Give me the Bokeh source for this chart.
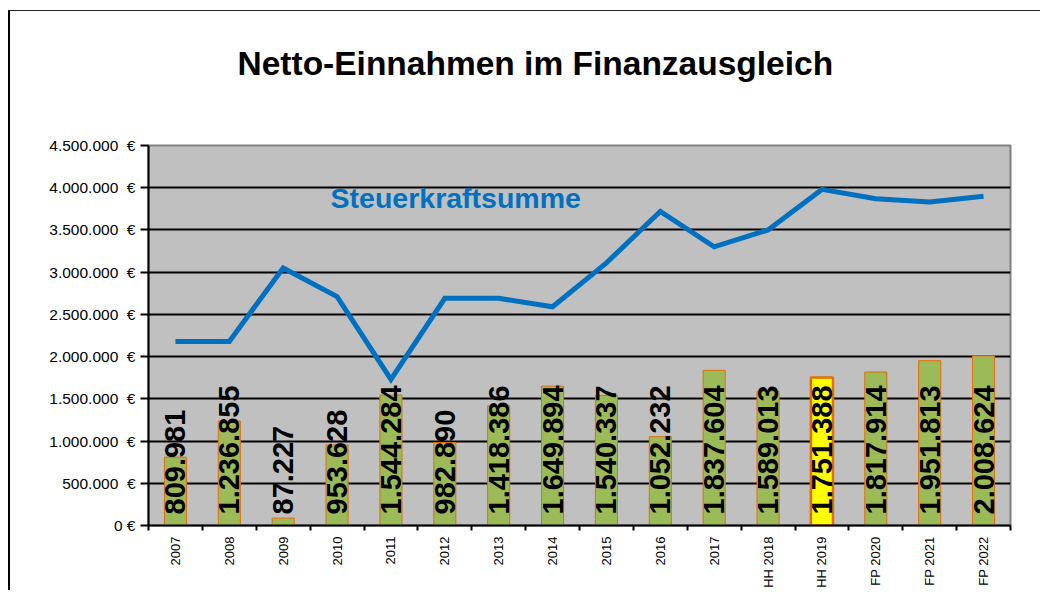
import math
from bokeh.plotting import figure
from bokeh.models import Range1d, FixedTicker, ColumnDataSource, Label
from bokeh.core.properties import value
from bokeh.embed import file_html
from bokeh.resources import INLINE

# ---- data ----
categories = ["2007", "2008", "2009", "2010", "2011", "2012", "2013", "2014",
              "2015", "2016", "2017", "HH 2018", "HH 2019", "FP 2020", "FP 2021", "FP 2022"]
netto = [809981, 1236855, 87227, 953628, 1544284, 982890, 1418386, 1649894,
         1540337, 1052232, 1837604, 1589013, 1751388, 1817914, 1951813, 2008624]
steuerkraft = [2180000, 2180000, 3050000, 2710000, 1730000, 2690000, 2690000, 2590000,
               3110000, 3720000, 3300000, 3500000, 3980000, 3870000, 3830000, 3900000]
y_ticks = [0, 500000, 1000000, 1500000, 2000000, 2500000, 3000000, 3500000, 4000000, 4500000]
y_tick_labels = ["0 €", "500.000\u00a0\u00a0€", "1.000.000\u00a0\u00a0€", "1.500.000\u00a0\u00a0€",
                 "2.000.000\u00a0\u00a0€", "2.500.000\u00a0\u00a0€", "3.000.000\u00a0\u00a0€",
                 "3.500.000\u00a0\u00a0€", "4.000.000\u00a0\u00a0€", "4.500.000\u00a0\u00a0€"]
highlight = "HH 2019"
title_text = "Netto-Einnahmen im Finanzausgleich"
line_label = "Steuerkraftsumme"

FONT = "Liberation Sans"

xs = list(range(len(categories)))
bar_labels = [f"{v:,}".replace(",", ".") for v in netto]
fills = ["#FFFF00" if c == highlight else "#9BBB59" for c in categories]
lws = [2.5 if c == highlight else 1 for c in categories]

src = ColumnDataSource(dict(x=xs, top=netto, lab=bar_labels, fill=fills, lw=lws, zero=[0] * len(xs)))

p = figure(width=1032, height=580, output_backend="svg", toolbar_location=None,
           title=title_text + "\n",
           x_range=Range1d(-0.5, len(categories) - 0.5), y_range=Range1d(0, 4500000),
           min_border_left=138, min_border_right=32, min_border_top=134, min_border_bottom=66)
p.styles = {"border-left": "2px solid #000000", "border-top": "1px solid #222222",
            "margin-top": "10px", "margin-left": "8px"}

p.title.text_font = FONT
p.title.text_font_style = "bold"
p.title.text_font_size = "33.5px"
p.title.text_color = "black"
p.title.align = "left"
p.title.offset = 89
p.title.standoff = 54

p.background_fill_color = "#C0C0C0"
p.border_fill_color = "white"
p.outline_line_color = "#808080"
p.outline_line_width = 2

p.xgrid.visible = False
p.ygrid.ticker = FixedTicker(ticks=y_ticks[1:-1])
p.ygrid.grid_line_color = "black"
p.ygrid.grid_line_width = 2

p.vbar(x="x", top="top", bottom=0, width=0.41, source=src,
       fill_color="fill", line_color="#E46C0A", line_width="lw")

p.line(xs, steuerkraft, line_color="#0070C0", line_width=5, line_join="miter")

p.text(x="x", y="zero", text="lab", source=src, angle=math.pi / 2,
       text_align="left", text_baseline="middle", y_offset=-11,
       text_font=value(FONT), text_font_style="bold", text_font_size="29px", text_color="black")

p.add_layout(Label(x=2.88, y=3880000, text=line_label, text_baseline="middle",
                   text_font=FONT, text_font_style="bold", text_font_size="28.5px",
                   text_color="#0070C0"))

# y axis
p.yaxis.ticker = FixedTicker(ticks=y_ticks)
p.yaxis.major_label_overrides = {t: l for t, l in zip(y_ticks, y_tick_labels)}
p.yaxis.major_tick_out = 8
p.yaxis.major_tick_in = 0
p.yaxis.minor_tick_out = 0
p.yaxis.minor_tick_in = 0
p.yaxis.major_tick_line_width = 2
p.yaxis.axis_line_width = 2
p.yaxis.major_label_text_font = FONT
p.yaxis.major_label_text_font_size = "15.5px"
p.yaxis.major_label_text_color = "black"
p.yaxis.major_label_standoff = 5

# x axis
p.xaxis.ticker = FixedTicker(ticks=xs, minor_ticks=[i - 0.5 for i in range(len(categories) + 1)])
p.xaxis.major_label_overrides = {i: c for i, c in enumerate(categories)}
p.xaxis.major_label_orientation = math.pi / 2
p.xaxis.major_tick_out = 0
p.xaxis.major_tick_in = 0
p.xaxis.minor_tick_out = 5
p.xaxis.minor_tick_in = 0
p.xaxis.minor_tick_line_width = 2
p.xaxis.minor_tick_line_color = "black"
p.xaxis.axis_line_width = 2
p.xaxis.major_label_text_font = FONT
p.xaxis.major_label_text_font_size = "13px"
p.xaxis.major_label_text_color = "black"
p.xaxis.major_label_standoff = 6

open("out.html", "w").write(file_html(p, INLINE))
